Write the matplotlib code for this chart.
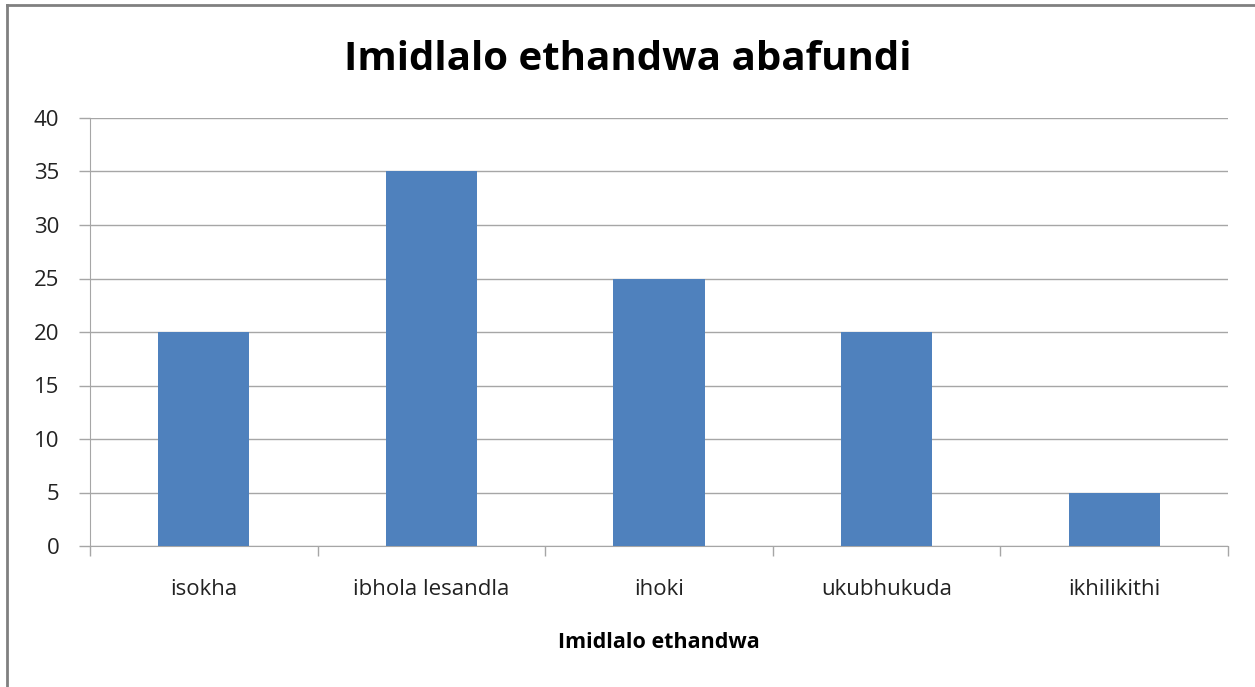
import matplotlib
matplotlib.use("Agg")
import matplotlib.pyplot as plt
from matplotlib.lines import Line2D

categories = ["isokha", "ibhola lesandla", "ihoki", "ukubhukuda", "ikhilikithi"]
values = [20, 35, 25, 20, 5]
yticks = [0, 5, 10, 15, 20, 25, 30, 35, 40]

plt.rcParams['font.family'] = ['Open Sans', 'DejaVu Sans']

fig = plt.figure(figsize=(12.55, 6.87), dpi=100)
ax = fig.add_axes([90/1255, 1-546/687, (1228-90)/1255, (546-118)/687])

x = list(range(len(categories)))
ax.bar(x, values, width=0.4, color="#4F81BD", zorder=3)
ax.set_xlim(-0.5, len(categories)-0.5)
ax.set_ylim(0, 40)
ax.set_yticks(yticks)
ax.set_yticklabels([str(v) for v in yticks], fontsize=16, color="#222222")
ax.yaxis.grid(True, color="#A6A6A6", linewidth=1.0, zorder=0)
ax.set_xticks(x)
ax.set_xticklabels(categories, fontsize=16, color="#222222")
ax.tick_params(axis='x', length=0, pad=24)
ax.tick_params(axis='y', length=8, width=1.0, color="#A6A6A6", pad=14)
ax.set_xticks([i - 0.5 for i in range(len(categories)+1)], minor=True)
ax.tick_params(axis='x', which='minor', length=7, width=1.0, color="#A6A6A6", direction='out')
for s in ["top", "right"]:
    ax.spines[s].set_visible(False)
ax.spines["left"].set_color("#A6A6A6")
ax.spines["bottom"].set_color("#A6A6A6")
ax.set_xlabel("Imidlalo ethandwa", fontsize=15.5, fontweight="bold", labelpad=23)

fig.text(0.5, 1-60/687, "Imidlalo ethandwa abafundi", ha="center", va="center",
         fontsize=29, fontweight="bold")

fig.add_artist(Line2D([7/1255, 7/1255], [0, 1-5/687], color="#808080", linewidth=2, transform=fig.transFigure))
fig.add_artist(Line2D([7/1255, 1], [1-5/687, 1-5/687], color="#808080", linewidth=2, transform=fig.transFigure))

fig.savefig("out.png", dpi=100)
